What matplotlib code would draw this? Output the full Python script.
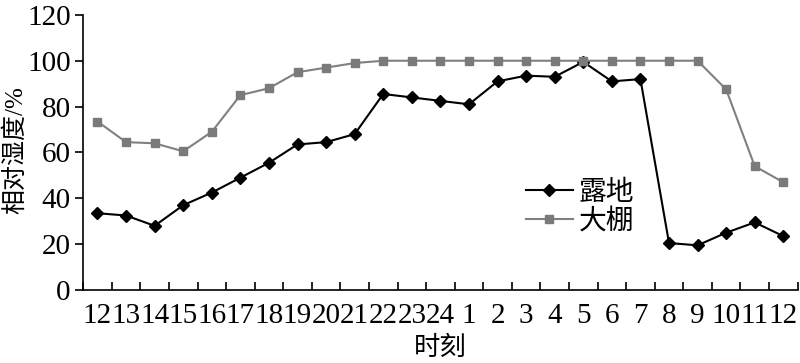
import numpy as np
import matplotlib
matplotlib.use("Agg")
import matplotlib.pyplot as plt

plt.rcParams['font.family'] = ['Liberation Serif', 'Noto Sans CJK SC']

# hour labels (noon to noon)
hours = ['12', '13', '14', '15', '16', '17', '18', '19', '20', '21', '22', '23', '24',
         '1', '2', '3', '4', '5', '6', '7', '8', '9', '10', '11', '12']
# relative humidity, %
open_field = [33.5, 32.5, 28, 37, 42.5, 49, 55.5, 63.5, 64.5, 68, 85.5, 84, 82.5,
              81, 91, 93.5, 93, 99.5, 91, 92, 20.5, 19.5, 25, 29.5, 23.5]
greenhouse = [73.5, 64.5, 64, 60.5, 69, 85, 88, 95, 97, 99, 100, 100, 100,
              100, 100, 100, 100, 100, 100, 100, 100, 100, 87.5, 54, 47]

x = np.arange(len(hours))

fig = plt.figure(figsize=(8, 3.63), dpi=100)
ax = fig.add_axes([0.104, 0.201, 0.893, 0.758])

ax.plot(x, open_field, color='black', linewidth=1.5, marker='D', markersize=6,
        markerfacecolor='black', markeredgecolor='black', label='露地')
ax.plot(x, greenhouse, color='#808080', linewidth=1.5, marker='s', markersize=6,
        markerfacecolor='#7a7a7a', markeredgecolor='#7a7a7a', label='大棚')

ax.set_xlim(-0.5, len(hours) - 0.5)
ax.set_ylim(0, 120)
ax.set_yticks(np.arange(0, 121, 20))
ax.set_xticks(x)
ax.set_xticklabels(hours)
ax.set_xticks(np.arange(-0.5, len(hours), 1), minor=True)
ax.tick_params(axis='x', which='major', length=0, labelsize=21, pad=9)
ax.tick_params(axis='x', which='minor', length=6, width=1.2, direction='in')
ax.tick_params(axis='y', labelsize=21, length=6, width=1.2, direction='out', pad=3)

for s in ['top', 'right']:
    ax.spines[s].set_visible(False)
for s in ['left', 'bottom']:
    ax.spines[s].set_linewidth(1.2)

ax.set_ylabel('相对湿度/%', fontsize=18)
ax.yaxis.set_label_coords(-0.078, 0.51)
ax.set_xlabel('时刻', fontsize=19)
ax.xaxis.set_label_coords(0.5, -0.165)

ax.legend(loc='center left', bbox_to_anchor=(0.6, 0.30), frameon=False,
          fontsize=20, handlelength=1.7, handletextpad=0.2, labelspacing=0.1,
          borderpad=0)

fig.savefig('out.png', dpi=100)
